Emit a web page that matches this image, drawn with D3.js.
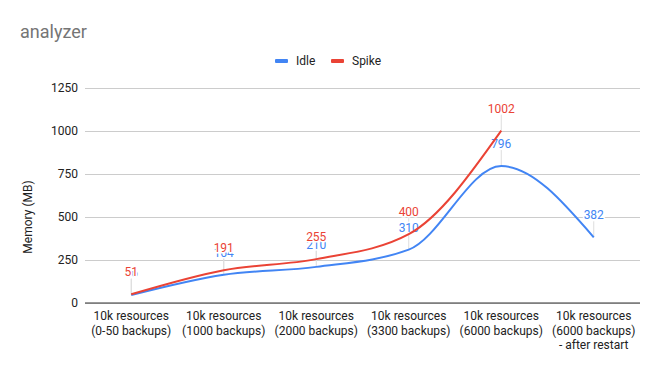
<!DOCTYPE html>
<html>
<head>
<meta charset="utf-8">
<script src="https://cdn.jsdelivr.net/npm/d3@7"></script>
<style>
	body { margin: 0; background: #fff; }
	text { font-family: Roboto, "Noto Sans", sans-serif; }
</style>
</head>
<body>
<svg width="658" height="371"></svg>
<script>
const categories = [
	["10k resources", "(0-50 backups)"],
	["10k resources", "(1000 backups)"],
	["10k resources", "(2000 backups)"],
	["10k resources", "(3300 backups)"],
	["10k resources", "(6000 backups)"],
	["10k resources", "(6000 backups)", "- after restart"]
];
const idle = [46, 164, 210, 310, 796, 382];
const spike = [51, 191, 255, 400, 1002];
const yTicks = [0, 250, 500, 750, 1000, 1250];

const series = [
	{ name: "Idle", color: "#4285f4", values: idle },
	{ name: "Spike", color: "#ea4335", values: spike }
];

const svg = d3.select("svg");
const plotLeft = 85, plotRight = 640, plotTop = 88, plotBottom = 303;

const x = d3.scaleBand()
	.domain(d3.range(categories.length))
	.range([plotLeft, plotRight]);
const y = d3.scaleLinear()
	.domain([0, 1250])
	.range([plotBottom, plotTop]);

// title
svg.append("text")
	.attr("x", 20).attr("y", 38)
	.attr("font-size", 18)
	.attr("fill", "#757575")
	.text("analyzer");

// legend
const legend = svg.append("g");
const legendX = [275, 331];
series.forEach((s, i) => {
	legend.append("rect")
		.attr("x", legendX[i]).attr("y", 59)
		.attr("width", 13).attr("height", 4)
		.attr("rx", 1)
		.attr("fill", s.color);
	legend.append("text")
		.attr("x", legendX[i] + 21).attr("y", 65)
		.attr("font-size", 12)
		.attr("fill", "#222")
		.text(s.name);
});

// grid + y axis
const yAxis = d3.axisLeft(y)
	.tickValues(yTicks)
	.tickFormat(d3.format("d"))
	.tickSize(-(plotRight - plotLeft))
	.tickPadding(7);
svg.append("g")
	.attr("transform", `translate(${plotLeft},0)`)
	.call(yAxis)
	.call(g => g.select(".domain").remove())
	.call(g => g.selectAll(".tick line").attr("stroke", "#ccc"))
	.call(g => g.selectAll(".tick text")
		.attr("font-size", 12)
		.attr("fill", "#222")
		.attr("font-family", "Roboto, sans-serif"));

// baseline
svg.append("line")
	.attr("x1", plotLeft).attr("x2", plotRight)
	.attr("y1", y(0)).attr("y2", y(0))
	.attr("stroke", "#333");

// y label
svg.append("text")
	.attr("transform", `translate(32,217) rotate(-90)`)
	.attr("text-anchor", "middle")
	.attr("font-size", 12)
	.attr("fill", "#222")
	.text("Memory (MB)");

// x labels
const xLab = svg.append("g");
categories.forEach((lines, i) => {
	const t = xLab.append("text")
		.attr("text-anchor", "middle")
		.attr("font-size", 12)
		.attr("fill", "#222");
	lines.forEach((l, j) => {
		t.append("tspan")
			.attr("x", x(i) + x.bandwidth() / 2)
			.attr("y", 320 + j * 14.5)
			.text(l);
	});
});

const cx = i => x(i) + x.bandwidth() / 2;

// leader lines
series.forEach(s => {
	svg.append("g").selectAll("line")
		.data(s.values)
		.join("line")
		.attr("x1", (d, i) => cx(i)).attr("x2", (d, i) => cx(i))
		.attr("y1", d => y(d) - 16).attr("y2", d => y(d))
		.attr("stroke", "#ddd");
});

// data labels (idle under spike, like the reference)
series.forEach(s => {
	svg.append("g").selectAll("text")
		.data(s.values)
		.join("text")
		.attr("x", (d, i) => cx(i))
		.attr("y", d => y(d) - 18)
		.attr("text-anchor", "middle")
		.attr("font-size", 12)
		.attr("fill", s.color)
		.attr("stroke", "#fff")
		.attr("stroke-width", 3)
		.attr("paint-order", "stroke")
		.text(d => d);
});

// lines
const line = d3.line()
	.x((d, i) => cx(i))
	.y(d => y(d))
	.curve(d3.curveMonotoneX);

series.forEach(s => {
	svg.append("path")
		.datum(s.values)
		.attr("fill", "none")
		.attr("stroke", s.color)
		.attr("stroke-width", 2)
		.attr("d", line);
});
</script>
</body>
</html>
